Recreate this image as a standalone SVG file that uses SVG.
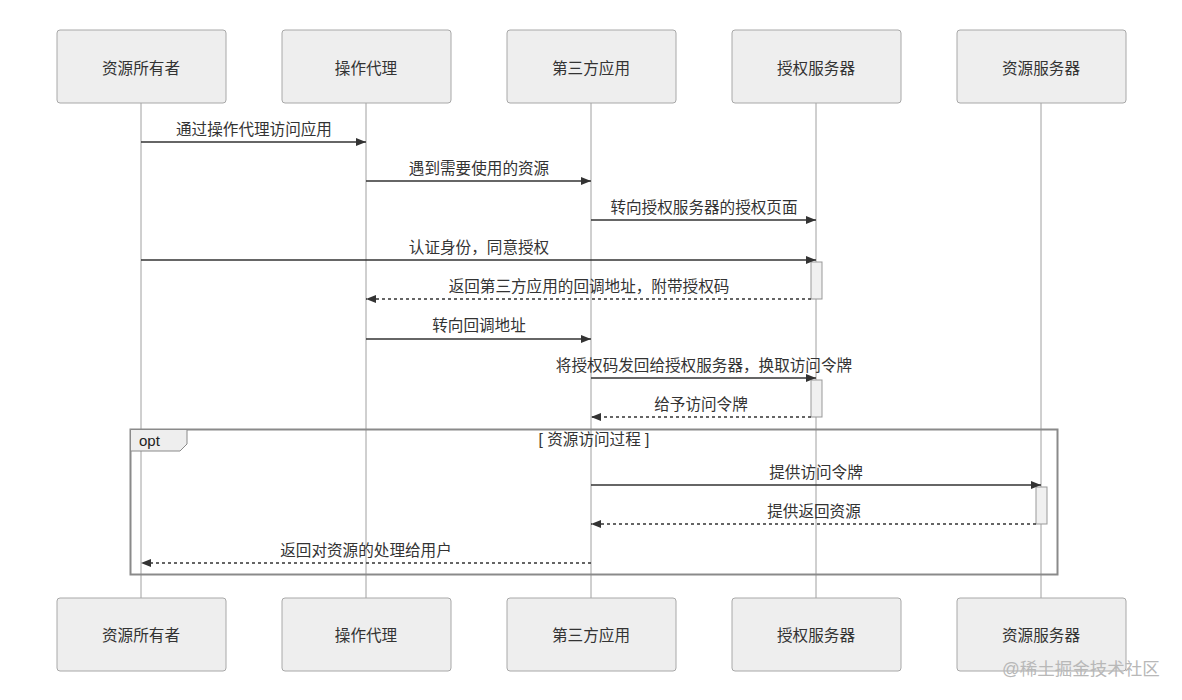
<svg xmlns="http://www.w3.org/2000/svg" width="1182" height="700" viewBox="0 0 1182 700">
<defs>
<style>
.box{fill:#eeeeee;stroke:#a8a8a8;stroke-width:1}
.atxt{font-family:"Liberation Sans","Noto Sans CJK SC",sans-serif;font-size:15.6px;fill:#333;text-anchor:middle}
.life{stroke:#a0a0a0;stroke-width:1}
.msg{stroke:#333;stroke-width:1.5;fill:none}
.dash{stroke:#333;stroke-width:1.5;fill:none;stroke-dasharray:3,3}
.lbl{font-family:"Liberation Sans","Noto Sans CJK SC",sans-serif;font-size:15.6px;fill:#333;text-anchor:middle}
.act{fill:#f0f0f0;stroke:#999;stroke-width:1}
</style>
<marker id="ah" viewBox="0 0 10 8" refX="10" refY="4" markerWidth="10" markerHeight="8" markerUnits="userSpaceOnUse" orient="auto">
<path d="M0,0 L10,4 L0,8 z" fill="#333"/>
</marker>
</defs>
<rect width="1182" height="700" fill="#fff"/>
<g id="lifelines">
<line class="life" x1="141" y1="103" x2="141" y2="598"/>
<line class="life" x1="366" y1="103" x2="366" y2="598"/>
<line class="life" x1="591" y1="103" x2="591" y2="598"/>
<line class="life" x1="816" y1="103" x2="816" y2="598"/>
<line class="life" x1="1041" y1="103" x2="1041" y2="598"/>
</g>
<g id="n-owner"><rect class="box" x="57" y="30" width="169" height="73" rx="3"/><text class="atxt" x="141" y="74">资源所有者</text></g>
<g id="n-agent"><rect class="box" x="282" y="30" width="169" height="73" rx="3"/><text class="atxt" x="366" y="74">操作代理</text></g>
<g id="n-app"><rect class="box" x="507" y="30" width="169" height="73" rx="3"/><text class="atxt" x="591" y="74">第三方应用</text></g>
<g id="n-auth"><rect class="box" x="732" y="30" width="169" height="73" rx="3"/><text class="atxt" x="816" y="74">授权服务器</text></g>
<g id="n-res"><rect class="box" x="957" y="30" width="169" height="73" rx="3"/><text class="atxt" x="1041" y="74">资源服务器</text></g>
<g id="n-owner-b"><rect class="box" x="57" y="598" width="169" height="73" rx="3"/><text class="atxt" x="141" y="641">资源所有者</text></g>
<g id="n-agent-b"><rect class="box" x="282" y="598" width="169" height="73" rx="3"/><text class="atxt" x="366" y="641">操作代理</text></g>
<g id="n-app-b"><rect class="box" x="507" y="598" width="169" height="73" rx="3"/><text class="atxt" x="591" y="641">第三方应用</text></g>
<g id="n-auth-b"><rect class="box" x="732" y="598" width="169" height="73" rx="3"/><text class="atxt" x="816" y="641">授权服务器</text></g>
<g id="n-res-b"><rect class="box" x="957" y="598" width="169" height="73" rx="3"/><text class="atxt" x="1041" y="641">资源服务器</text></g>
<g id="frame-opt">
<rect x="130.5" y="429.5" width="927" height="145" fill="none" stroke="#8a8a8a" stroke-width="2"/>
<path d="M130.5,429.5 H187 V444 L180,451 H130.5 Z" fill="#eeeeee" stroke="#8a8a8a" stroke-width="1"/>
<text x="139" y="446" font-family="'Liberation Sans',sans-serif" font-size="15" fill="#222">opt</text>
<text class="lbl" x="594" y="445">[ 资源访问过程 ]</text>
</g>
<g id="activations">
<rect class="act" x="811" y="262" width="11" height="37"/>
<rect class="act" x="811" y="380" width="11" height="37"/>
<rect class="act" x="1036" y="487" width="11" height="37"/>
</g>
<g id="connectors">
<line class="msg" x1="141" y1="142" x2="366" y2="142" marker-end="url(#ah)"/>
<text class="lbl" x="254" y="135">通过操作代理访问应用</text>
<line class="msg" x1="366" y1="181" x2="591" y2="181" marker-end="url(#ah)"/>
<text class="lbl" x="479" y="174">遇到需要使用的资源</text>
<line class="msg" x1="591" y1="220" x2="816" y2="220" marker-end="url(#ah)"/>
<text class="lbl" x="704" y="213">转向授权服务器的授权页面</text>
<line class="msg" x1="141" y1="260" x2="816" y2="260" marker-end="url(#ah)"/>
<text class="lbl" x="479" y="253">认证身份，同意授权</text>
<line class="dash" x1="811" y1="299" x2="366" y2="299" marker-end="url(#ah)"/>
<text class="lbl" x="589" y="292">返回第三方应用的回调地址，附带授权码</text>
<line class="msg" x1="366" y1="339" x2="591" y2="339" marker-end="url(#ah)"/>
<text class="lbl" x="479" y="331">转向回调地址</text>
<line class="msg" x1="591" y1="378" x2="816" y2="378" marker-end="url(#ah)"/>
<text class="lbl" x="704" y="371">将授权码发回给授权服务器，换取访问令牌</text>
<line class="dash" x1="811" y1="417" x2="591" y2="417" marker-end="url(#ah)"/>
<text class="lbl" x="701" y="410">给予访问令牌</text>
<line class="msg" x1="591" y1="485" x2="1041" y2="485" marker-end="url(#ah)"/>
<text class="lbl" x="816" y="478">提供访问令牌</text>
<line class="dash" x1="1036" y1="524" x2="591" y2="524" marker-end="url(#ah)"/>
<text class="lbl" x="814" y="517">提供返回资源</text>
<line class="dash" x1="591" y1="563" x2="141" y2="563" marker-end="url(#ah)"/>
<text class="lbl" x="366" y="556">返回对资源的处理给用户</text>
</g>
<text x="1002" y="675" font-family="'Liberation Sans','Noto Sans CJK SC',sans-serif" font-size="17.5" fill="#b8b8b8">@稀土掘金技术社区</text>
</svg>
